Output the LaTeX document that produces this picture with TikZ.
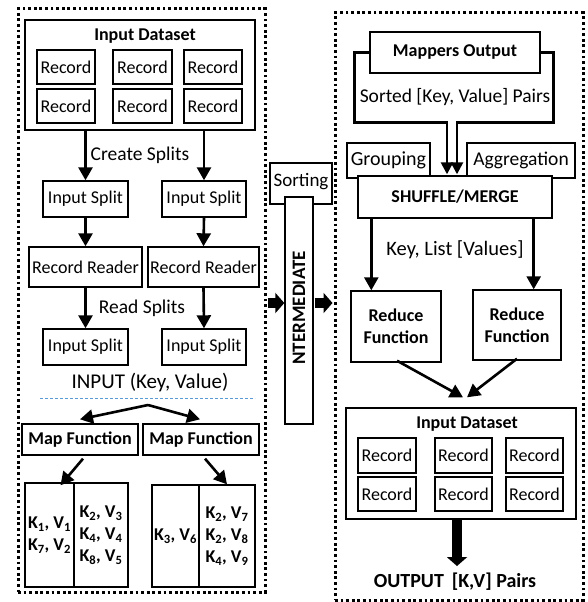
\documentclass[tikz,border=0pt]{standalone}
\usepackage{fontspec}
\setmainfont{Carlito}
\usetikzlibrary{arrows.meta,calc}
\definecolor{splitblue}{RGB}{91,155,213}

\begin{document}
\begin{tikzpicture}[x=1pt,y=-1pt,
  box/.style={draw, line width=1.4pt, fill=white, inner sep=0pt, align=center},
  wh/.style 2 args={minimum width=#1pt, minimum height=#2pt},
  frame/.style={draw, line width=3pt, dash pattern=on 2.8pt off 2.8pt, inner sep=0pt},
  arr/.style={line width=2.6pt, -{Triangle[length=13pt,width=14pt]}},
  fat/.style={line width=10pt, -{Triangle[length=9pt,width=20pt]}},
  lbl/.style={inner sep=0pt, align=center},
  big/.style={font=\fontsize{19.5}{21}\selectfont},
  every node/.style={font=\fontsize{18}{19}\selectfont}
]
\useasboundingbox (0,0) rectangle (587,602);

% ---------------- containers ----------------
\node[frame, wh={247}{583}] (lf) at (141.5,300.5) {};
\node[frame, wh={248}{587}] (rf) at (459,306.5) {};

% ---------------- input side ----------------
\node[box, wh={230}{110}] (ds1) at (140,75) {};
\node[lbl] (ds1t) at (145,36) {\textbf{Input Dataset}};
\foreach \i/\x/\w in {1/66/58, 2/142.5/59, 3/213/58}{
  \node[box, wh={\w}{34}] (ra\i) at (\x,67) {Record};
  \node[box, wh={\w}{34}] (rb\i) at (\x,106) {Record};
}
\node[lbl, big] (cs) at (140,155) {Create Splits};

\node[box, wh={85}{36}] (s1) at (85.5,199) {Input Split};
\node[box, wh={84}{36}] (s2) at (204,199) {Input Split};
\node[box, wh={113}{40}] (rr1) at (85.5,267) {Record Reader};
\node[box, wh={111}{40}] (rr2) at (203.5,267) {Record Reader};
\node[lbl, big] (rs) at (142,308) {Read Splits};
\node[box, wh={85}{36}] (t1) at (85.5,347) {Input Split};
\node[box, wh={84}{36}] (t2) at (204,347) {Input Split};
\node[lbl, font=\fontsize{21}{24}\selectfont] (ikv) at (150,383) {INPUT (Key, Value)};

\coordinate (dl) at (40,398);
\coordinate (dr) at (255,398);
\draw[splitblue, line width=0.9pt, dash pattern=on 3pt off 2pt] (dl) -- (dr);

\coordinate (apex) at (148,405);
\node[box, wh={116}{31}] (mf1) at (80,439.5) {\textbf{Map Function}};
\node[box, wh={116}{31}] (mf2) at (201,439.5) {\textbf{Map Function}};

\node[box, wh={49}{104}] (k1a) at (49.5,535) {\textbf{K\textsubscript{1}, V\textsubscript{1}}\\[3pt]\textbf{K\textsubscript{7}, V\textsubscript{2}}};
\node[box, wh={54}{104}] (k1b) at (101,535) {\textbf{K\textsubscript{2}, V\textsubscript{3}}\\[3pt]\textbf{K\textsubscript{4}, V\textsubscript{4}}\\[3pt]\textbf{K\textsubscript{8}, V\textsubscript{5}}};
\node[box, wh={47}{102}] (k2a) at (175.5,536) {\textbf{K\textsubscript{3}, V\textsubscript{6}}};
\node[box, wh={56}{102}] (k2b) at (227,536) {\textbf{K\textsubscript{2}, V\textsubscript{7}}\\[3pt]\textbf{K\textsubscript{2}, V\textsubscript{8}}\\[3pt]\textbf{K\textsubscript{4}, V\textsubscript{9}}};

\draw[arr] (ds1.south -| s1) -- (s1.north);
\draw[arr] (ds1.south -| s2) -- (s2.north);
\draw[arr] (s1.south) -- (rr1.north);
\draw[arr] (s2.south) -- (rr2.north);
\draw[arr] (rr1.south) -- (t1.north);
\draw[arr] (rr2.south) -- (t2.north);
\draw[arr] (apex) -- ($(mf1.north)+(0,-4)$);
\draw[arr] (apex) -- ($(mf2.north)+(-1,-4)$);
\draw[arr] ($(mf1.south)+(3,3)$) -- ($(k1a.north)+(11,3)$);
\draw[arr] ($(mf2.south)+(4,3)$) -- (k2b.north);

% ---------------- intermediate ----------------
\node[box, wh={62}{41}] (sort) at (301,183.5) {};
\node[lbl, font=\fontsize{19}{20}\selectfont] (sortt) at (301,182) {Sorting};
\node[box, wh={28}{227}] (inter) at (299,310.5) {};
\node[lbl, rotate=90, font=\fontsize{19}{20}\selectfont] (intert) at (299,308) {\textbf{NTERMEDIATE}};
\coordinate (fa) at (0,303);
\draw[fat] ($(lf.east |- fa)+(1,0)$) -- (inter.west |- fa);
\draw[fat] ($(inter.east |- fa)+(1,0)$) -- ($(rf.west |- fa)+(-1,0)$);

% ---------------- output side ----------------
\node[box, wh={170}{41}] (mo) at (455,52.5) {\textbf{Mappers Output}};
\node[lbl, big] (skv) at (455,97) {Sorted [Key, Value] Pairs};
\node[box, wh={83}{35}, font=\fontsize{20}{21}\selectfont] (grp) at (388.5,160.5) {Grouping};
\node[box, wh={108}{35}, big] (agg) at (521,160.5) {Aggregation};
\node[box, wh={194}{42}] (sm) at (455,197) {\textbf{SHUFFLE/MERGE}};

\draw[line width=2.6pt, -{Triangle[length=12pt,width=12pt]}]
  (mo.west) -| ($(mo.west)+(-15,70)$) -| ($(sm.north)+(-8,-1)$);
\draw[line width=2.6pt, -{Triangle[length=12pt,width=12pt]}]
  (mo.east) -| ($(mo.east)+(13,70)$) -| ($(sm.north)+(2,-1)$);

\node[lbl, font=\fontsize{20.5}{22}\selectfont] (klv) at (455,250) {Key, List [Values]};
\node[box, wh={90}{71}] (r1) at (396,326.5) {\textbf{Reduce}\\[3pt]\textbf{Function}};
\node[box, wh={88}{70}] (r2) at (517,325) {\textbf{Reduce}\\[3pt]\textbf{Function}};

\coordinate (sa) at ($(sm.south west)+(14,0)$);
\coordinate (sb) at ($(sm.south east)+(-19,0)$);
\draw[arr] (sa) -- (sa |- r1.north);
\draw[arr] (sb) -- (sb |- r2.north);

\node[box, wh={230}{111}] (ds2) at (461,463.5) {};
\node[lbl] (ds2t) at (467,424) {\textbf{Input Dataset}};
\foreach \i/\x/\w in {1/387/58, 2/463.5/57, 3/534.5/57}{
  \node[box, wh={\w}{35}] (qa\i) at (\x,455.5) {Record};
  \node[box, wh={\w}{34}] (qb\i) at (\x,494) {Record};
}

\draw[arr] ($(r1.south)+(1,-2)$) -- ($(ds2.north)+(2,-10)$);
\draw[arr] ($(r2.south)+(0,-2)$) -- ($(ds2.north)+(6,-10)$);

\node[lbl, font=\fontsize{20}{22}\selectfont] (out) at (455,582) {\textbf{OUTPUT\, [K,V] Pairs}};
\coordinate (oa) at (457,0);
\draw[fat] (ds2.south -| oa) -- ($(out.north -| oa)+(0,-7)$);
\end{tikzpicture}
\end{document}
